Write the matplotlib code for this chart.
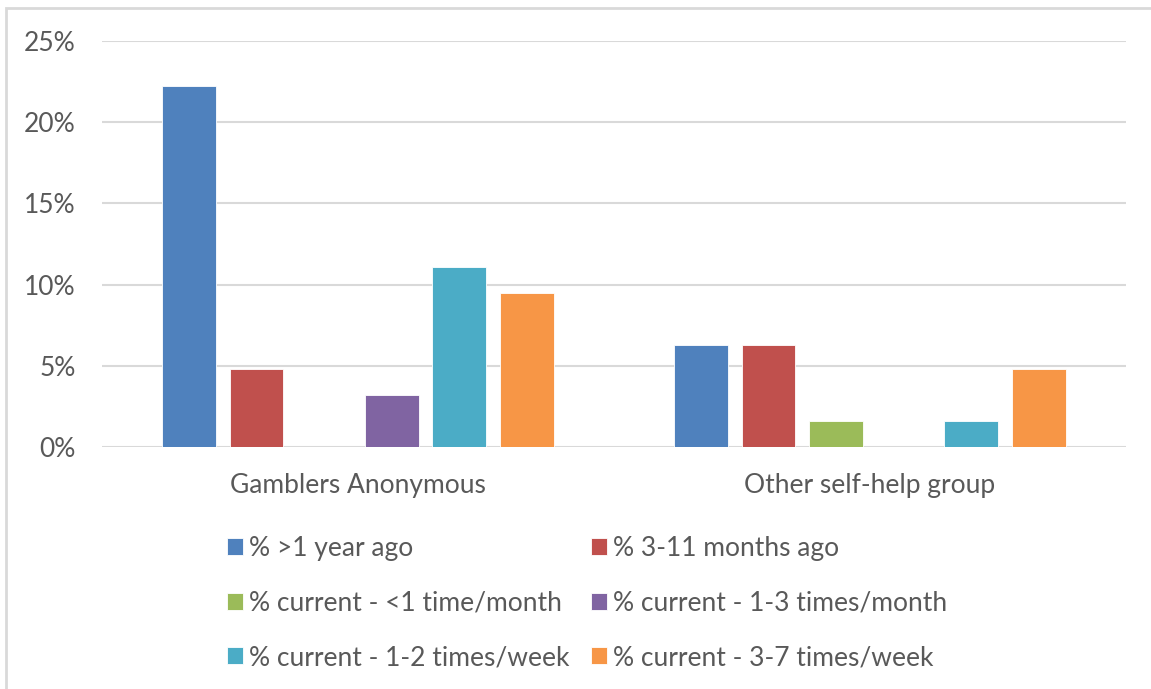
import numpy as np
import matplotlib.pyplot as plt
from matplotlib.patches import Rectangle

groups = ['Gamblers Anonymous', 'Other self-help group']
series = ['% >1 year ago', '% 3-11 months ago', '% current - <1 time/month',
          '% current - 1-3 times/month', '% current - 1-2 times/week',
          '% current - 3-7 times/week']
ga = [22.2, 4.8, 0.0, 3.2, 11.1, 9.5]
other = [6.3, 6.3, 1.6, 0.0, 1.6, 4.8]
colors = ['#4F81BD', '#C0504D', '#9BBB59', '#8064A2', '#4BACC6', '#F79646']
yticks = [0, 5, 10, 15, 20, 25]

plt.rcParams['font.family'] = ['Lato', 'DejaVu Sans']
txt = '#595959'

fig = plt.figure(figsize=(11.51, 6.89), dpi=100)
ax = fig.add_axes([0.0886, 0.3512, 0.8894, 0.5893])

x = np.arange(len(groups))
slot = 0.132
width = 0.105
handles = []
for i, name in enumerate(series):
    vals = [ga[i], other[i]]
    b = ax.bar(x + (i - 2.5) * slot, vals, width, color=colors[i],
               edgecolor='white', linewidth=0.6, label=name, zorder=3)
    handles.append(b)

ax.set_xlim(-0.5, 1.5)
ax.set_ylim(0, 25)
ax.set_yticks(yticks)
ax.set_yticklabels([f'{t}%' for t in yticks])
ax.set_xticks(x)
ax.set_xticklabels(groups)
ax.grid(axis='y', color='#D9D9D9', linewidth=1.5, zorder=0)
for s in ax.spines.values():
    s.set_visible(False)
ax.tick_params(length=0, labelsize=19, colors=txt)
ax.tick_params(axis='y', pad=19)
ax.tick_params(axis='x', pad=19)

order = [0, 2, 4, 1, 3, 5]
leg = fig.legend([handles[k] for k in order], [series[k] for k in order],
                 ncol=2, loc='upper left', bbox_to_anchor=(0.197, 0.222),
                 frameon=False, fontsize=19, handlelength=0.6, handleheight=0.6,
                 handletextpad=0.25, columnspacing=0.8, labelspacing=1.12,
                 borderaxespad=0, borderpad=0)
for t in leg.get_texts():
    t.set_color(txt)

fig.patches.append(Rectangle((6 / 1151, -0.1), 1.1, 1 - 8 / 689 + 0.1,
                             transform=fig.transFigure, fill=False,
                             edgecolor='#D9D9D9', linewidth=2))

fig.savefig('out.png', dpi=100)
